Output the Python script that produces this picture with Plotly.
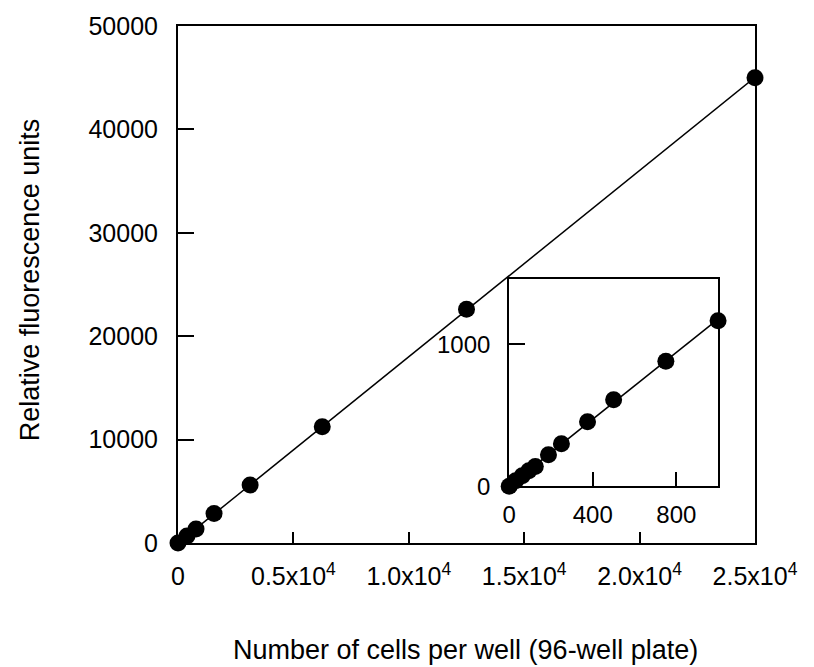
import numpy as np
import plotly.graph_objects as go

# ---- data ----
cells_main = [0, 390, 781, 1562, 3125, 6250, 12500, 25000]
rfu_main = [0, 680, 1350, 2850, 5600, 11250, 22600, 45000]

cells_inset = [0, 31, 62.5, 94, 125, 188, 250, 375, 500, 750, 1000]
rfu_inset = [0, 40, 75, 110, 140, 222, 300, 455, 610, 880, 1165]

main_x_tickvals = [0, 5000, 10000, 15000, 20000, 25000]
main_x_ticktext = ["0", "0.5x10<sup>4</sup>", "1.0x10<sup>4</sup>", "1.5x10<sup>4</sup>",
                   "2.0x10<sup>4</sup>", "2.5x10<sup>4</sup>"]
main_y_tickvals = [0, 10000, 20000, 30000, 40000, 50000]
main_y_ticktext = ["0", "10000", "20000", "30000", "40000", "50000"]

inset_x_tickvals = [0, 400, 800]
inset_x_ticktext = ["0", "400", "800"]
inset_y_tickvals = [0, 1000]
inset_y_ticktext = ["0", "1000"]

FONT = "Liberation Sans, Arial, sans-serif"
TICK_SIZE = 25
INSET_TICK_SIZE = 24
TITLE_SIZE = 27

# linear fits
m1, b1 = np.polyfit(cells_main, rfu_main, 1)
fx1 = np.array([min(cells_main), max(cells_main)])
m2, b2 = np.polyfit(cells_inset, rfu_inset, 1)
fx2 = np.array([min(cells_inset), max(cells_inset)])

fig = go.Figure()
fig.add_trace(go.Scatter(x=fx1, y=m1 * fx1 + b1, mode="lines",
                         line=dict(color="black", width=1.5), xaxis="x", yaxis="y",
                         hoverinfo="skip", cliponaxis=False))
fig.add_trace(go.Scatter(x=cells_main, y=rfu_main, mode="markers",
                         marker=dict(color="black", size=17), xaxis="x", yaxis="y",
                         cliponaxis=False))
fig.add_trace(go.Scatter(x=fx2, y=m2 * fx2 + b2, mode="lines",
                         line=dict(color="black", width=1.5), xaxis="x2", yaxis="y2",
                         hoverinfo="skip", cliponaxis=False))
fig.add_trace(go.Scatter(x=cells_inset, y=rfu_inset, mode="markers",
                         marker=dict(color="black", size=17), xaxis="x2", yaxis="y2",
                         cliponaxis=False))

axis_common = dict(showgrid=False, zeroline=False, showline=True, linecolor="black",
                   linewidth=2, mirror=True, ticks="inside", tickcolor="black",
                   tickwidth=2)

fig.update_layout(
    width=814, height=667,
    margin=dict(l=178, r=59, t=23, b=124),
    paper_bgcolor="white", plot_bgcolor="white",
    showlegend=False,
    font=dict(family=FONT, color="black"),
    xaxis=dict(domain=[0, 1], range=[0, 25000], tickvals=main_x_tickvals,
               ticktext=main_x_ticktext, ticklen=11, ticklabelstandoff=10,
               tickfont=dict(family=FONT, size=TICK_SIZE, color="black"),
               anchor="y", **axis_common),
    yaxis=dict(domain=[0, 1], range=[0, 50000], tickvals=main_y_tickvals,
               ticktext=main_y_ticktext, ticklen=16, ticklabelstandoff=13,
               tickfont=dict(family=FONT, size=TICK_SIZE, color="black"),
               anchor="x", **axis_common),
    xaxis2=dict(domain=[0.574, 0.936], range=[0, 1000], tickvals=inset_x_tickvals,
                ticktext=inset_x_ticktext, ticklen=14, ticklabelstandoff=6,
                tickfont=dict(family=FONT, size=INSET_TICK_SIZE, color="black"),
                anchor="y2", **axis_common),
    yaxis2=dict(domain=[0.1096, 0.5115], range=[0, 1462], tickvals=inset_y_tickvals,
                ticktext=inset_y_ticktext, ticklen=16, ticklabelstandoff=12,
                tickfont=dict(family=FONT, size=INSET_TICK_SIZE, color="black"),
                anchor="x2", **axis_common),
    annotations=[
        dict(text="Number of cells per well (96-well plate)", xref="paper", yref="paper",
             x=0.499, y=-0.206, xanchor="center", yanchor="middle", showarrow=False,
             font=dict(family=FONT, size=TITLE_SIZE, color="black")),
        dict(text="Relative fluorescence units", xref="paper", yref="paper",
             x=-0.2565, y=0.51, xanchor="center", yanchor="middle", showarrow=False,
             textangle=-90, font=dict(family=FONT, size=TITLE_SIZE, color="black")),
    ],
)

fig.write_html("out.html", config={"displayModeBar": False},
               post_script="document.body.style.margin='0px';document.body.style.overflow='hidden';")
